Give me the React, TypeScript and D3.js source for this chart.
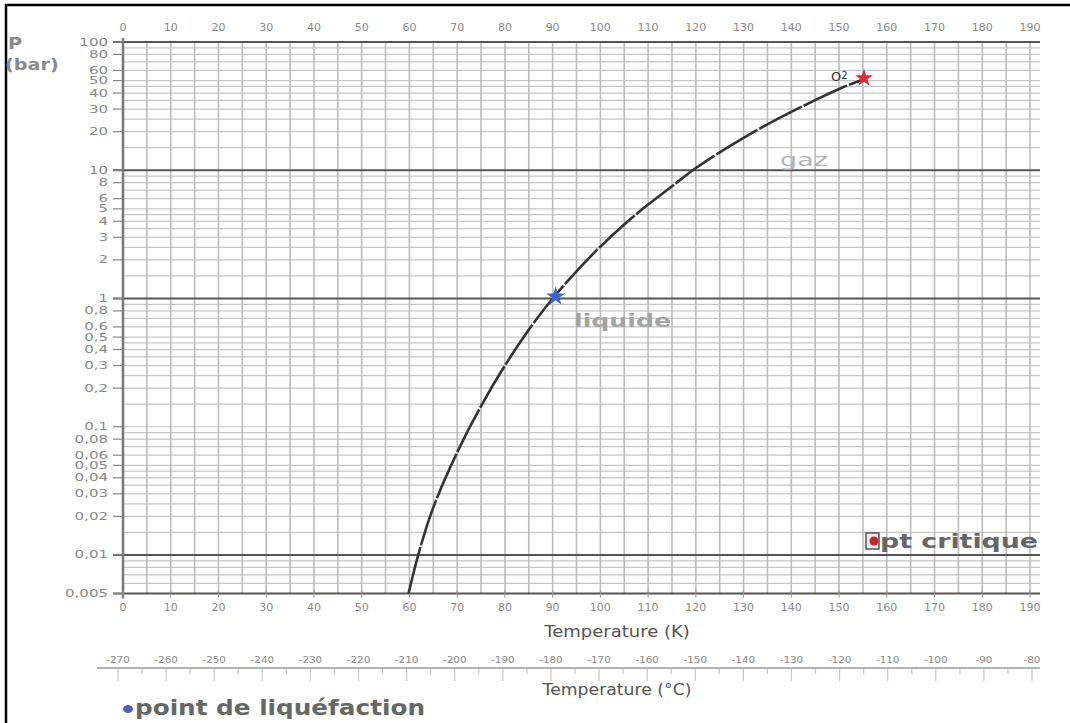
import * as d3 from 'd3';
import { useEffect, useRef } from 'react';

// vapour pressure curve of O2
const CURVE_T = [59.8, 62, 65, 70, 75, 80, 85, 90, 95, 100, 105, 110, 115, 120, 125, 130, 135, 140, 145, 150, 154.6];
const CURVE_P = [0.005, 0.0105, 0.0235, 0.063, 0.145, 0.3, 0.57, 1.0, 1.63, 2.54, 3.78, 5.4, 7.5, 10.4, 13.8, 17.9, 22.8, 28.5, 35.2, 43, 50.4];

const LIQUEFACTION = { t: 90, p: 1 };
const CRITICAL = { t: 154.6, p: 50.4 };

const P_TICKS = [100, 80, 60, 50, 40, 30, 20, 10, 8, 6, 5, 4, 3, 2, 1, 0.8, 0.6, 0.5, 0.4, 0.3, 0.2, 0.1, 0.08, 0.06, 0.05, 0.04, 0.03, 0.02, 0.01, 0.005];
const P_MAJOR = [100, 10, 1, 0.01, 0.005];
const GRID_MANTISSA = [1, 1.5, 2, 2.5, 3, 3.5, 4, 4.5, 5, 6, 7, 8, 9];
const DECADES = [0.001, 0.01, 0.1, 1, 10, 100];

const K_TICKS = d3.range(0, 191, 10);
const C_TICKS = d3.range(-270, -79, 10);

const FONT = '"DejaVu Sans", Verdana, sans-serif';

// the scan is stretched sideways, so widen text to match
function stretch(sel: d3.Selection<SVGTextElement, any, any, any>, factor: number) {
    sel.each(function () {
        const len = this.getComputedTextLength();
        d3.select(this).attr('textLength', len * factor).attr('lengthAdjust', 'spacingAndGlyphs');
    });
}

export default function App() {
    const svgRef = useRef<SVGSVGElement | null>(null);

    useEffect(() => {
        if (!svgRef.current) {
            return;
        }
        const svg = d3.select(svgRef.current);
        svg.selectAll('*').remove();

        const left = 123;
        const right = 1040;
        const top = 42;
        const bottom = 593.6;

        const x = d3.scaleLinear().domain([0, 190]).range([left, 1030]);
        const xMax = x.invert(right);
        const y = d3.scaleLog().domain([0.005, 100]).range([bottom, top]);
        const xc = d3.scaleLinear().domain([-270, -80]).range([118, 1032]);

        svg.append('rect')
            .attr('width', 1070)
            .attr('height', 723)
            .attr('fill', '#fff');

        // outer frame of the scan
        svg.append('rect')
            .attr('x', 6)
            .attr('y', 5)
            .attr('width', 1100)
            .attr('height', 760)
            .attr('fill', 'none')
            .attr('stroke', '#000')
            .attr('stroke-width', 2.5);

        // horizontal grid
        const hLines: number[] = [];
        for (const d of DECADES) {
            for (const m of GRID_MANTISSA) {
                const v = +(m * d).toPrecision(6);
                if (v >= 0.005 && v <= 100 && !hLines.includes(v)) {
                    hLines.push(v);
                }
            }
        }
        svg.append('g')
            .selectAll('line')
            .data(hLines.filter((v) => !P_MAJOR.includes(v)))
            .join('line')
            .attr('x1', left)
            .attr('x2', right)
            .attr('y1', (d) => y(d))
            .attr('y2', (d) => y(d))
            .attr('stroke', '#c6c6c6')
            .attr('stroke-width', 1.2);

        // vertical grid every 5 K
        svg.append('g')
            .selectAll('line')
            .data(d3.range(5, xMax, 5))
            .join('line')
            .attr('x1', (d) => x(d))
            .attr('x2', (d) => x(d))
            .attr('y1', top)
            .attr('y2', bottom)
            .attr('stroke', '#bcbcbc')
            .attr('stroke-width', 1.6);

        svg.append('g')
            .selectAll('line')
            .data(P_MAJOR)
            .join('line')
            .attr('x1', left - 10)
            .attr('x2', right)
            .attr('y1', (d) => y(d))
            .attr('y2', (d) => y(d))
            .attr('stroke', '#555')
            .attr('stroke-width', 2);

        svg.append('line')
            .attr('x1', left)
            .attr('x2', left)
            .attr('y1', top - 4)
            .attr('y2', bottom + 5)
            .attr('stroke', '#777')
            .attr('stroke-width', 2.5);

        // pressure ticks
        const yAxis = svg.append('g').attr('font-family', FONT).attr('font-size', 10).attr('fill', '#8a8a8a');
        yAxis.selectAll('line')
            .data(P_TICKS)
            .join('line')
            .attr('x1', left - 10)
            .attr('x2', left)
            .attr('y1', (d) => y(d))
            .attr('y2', (d) => y(d))
            .attr('stroke', '#888')
            .attr('stroke-width', 1.2);
        const yLabels = yAxis.selectAll<SVGTextElement, number>('text')
            .data(P_TICKS)
            .join('text')
            .attr('x', left - 15)
            .attr('y', (d) => y(d) + 3.5)
            .attr('text-anchor', 'end')
            .text((d) => String(d).replace('.', ','));
        stretch(yLabels, 1.5);

        // temperature K, top and bottom
        const kLabels = svg.append('g').attr('font-family', FONT).attr('font-size', 11).attr('fill', '#8a8a8a').attr('text-anchor', 'middle');
        kLabels.selectAll('text.top')
            .data(K_TICKS)
            .join('text')
            .attr('class', 'top')
            .attr('x', (d) => x(d))
            .attr('y', 31)
            .text((d) => d);
        kLabels.selectAll('text.bottom')
            .data(K_TICKS)
            .join('text')
            .attr('class', 'bottom')
            .attr('x', (d) => x(d))
            .attr('y', 611)
            .text((d) => d);
        svg.append('g')
            .selectAll('line')
            .data(K_TICKS)
            .join('line')
            .attr('x1', (d) => x(d))
            .attr('x2', (d) => x(d))
            .attr('y1', bottom - 3)
            .attr('y2', bottom + 4)
            .attr('stroke', '#999')
            .attr('stroke-width', 1);

        const kTitle = svg.append('text')
            .attr('x', 617)
            .attr('y', 637)
            .attr('text-anchor', 'middle')
            .attr('font-family', FONT)
            .attr('font-size', 15)
            .attr('fill', '#555')
            .text('Temperature (K)');
        stretch(kTitle, 1.2);

        // temperature °C
        svg.append('line')
            .attr('x1', 97)
            .attr('x2', right)
            .attr('y1', 668)
            .attr('y2', 668)
            .attr('stroke', '#9a9a9a')
            .attr('stroke-width', 1.5);
        svg.append('g')
            .selectAll('line')
            .data(d3.range(-270, -79, 5))
            .join('line')
            .attr('x1', (d) => xc(d))
            .attr('x2', (d) => xc(d))
            .attr('y1', 669)
            .attr('y2', (d) => (d % 10 === 0 ? 681 : 674))
            .attr('stroke', '#c8c8c8')
            .attr('stroke-width', 1.2);
        const cLabels = svg.append('g')
            .attr('font-family', FONT)
            .attr('font-size', 9)
            .attr('fill', '#8a8a8a')
            .attr('text-anchor', 'middle')
            .selectAll<SVGTextElement, number>('text')
            .data(C_TICKS)
            .join('text')
            .attr('x', (d) => xc(d))
            .attr('y', 663)
            .text((d) => d);
        stretch(cLabels, 1.15);

        const cTitle = svg.append('text')
            .attr('x', 617)
            .attr('y', 695)
            .attr('text-anchor', 'middle')
            .attr('font-family', FONT)
            .attr('font-size', 15)
            .attr('fill', '#555')
            .text('Temperature (°C)');
        stretch(cTitle, 1.15);

        // P (bar)
        const pLabel = svg.append('g').attr('font-family', FONT).attr('font-weight', 'bold').attr('font-size', 16).attr('fill', '#8a8a8a');
        stretch(pLabel.append('text').attr('x', 8).attr('y', 49).text('P'), 1.2);
        stretch(pLabel.append('text').attr('x', 5).attr('y', 70).text('(bar)'), 1.2);

        // curve
        const pts: [number, number][] = CURVE_T.map((t, i) => [t, CURVE_P[i]]);
        const line = d3
            .line<[number, number]>()
            .x((d) => x(d[0]))
            .y((d) => y(d[1]))
            .curve(d3.curveCatmullRom.alpha(0.5));
        svg.append('path')
            .attr('d', line(pts))
            .attr('fill', 'none')
            .attr('stroke', '#333')
            .attr('stroke-width', 2.6)
            .attr('stroke-dasharray', '48 2');

        // region labels
        stretch(
            svg.append('text')
                .attr('x', 780)
                .attr('y', 166)
                .attr('font-family', FONT)
                .attr('font-size', 18)
                .attr('fill', '#b4b4b4')
                .text('gaz'),
            1.5,
        );
        stretch(
            svg.append('text')
                .attr('x', 574)
                .attr('y', 327)
                .attr('font-family', FONT)
                .attr('font-size', 18)
                .attr('font-weight', 'bold')
                .attr('fill', '#a4a4a4')
                .text('liquide'),
            1.4,
        );

        // markers
        svg.append('path')
            .attr('d', d3.symbol(d3.symbolStar, 110)())
            .attr('transform', `translate(${x(LIQUEFACTION.t) + 3},${y(LIQUEFACTION.p) - 2})`)
            .attr('fill', '#4062c8');
        svg.append('path')
            .attr('d', d3.symbol(d3.symbolStar, 100)())
            .attr('transform', `translate(${x(CRITICAL.t) + 3},${y(CRITICAL.p) - 2})`)
            .attr('fill', '#d8303a');
        const o2 = svg.append('text')
            .attr('x', x(CRITICAL.t) - 30)
            .attr('y', y(CRITICAL.p) + 1)
            .attr('font-family', FONT)
            .attr('font-size', 13)
            .attr('fill', '#333');
        o2.append('tspan').text('O');
        o2.append('tspan').attr('font-size', 10).attr('dy', -2).text('2');

        // legend: pt critique
        svg.append('rect')
            .attr('x', 866)
            .attr('y', 533)
            .attr('width', 13)
            .attr('height', 16)
            .attr('fill', '#fbeaea')
            .attr('stroke', '#555')
            .attr('stroke-width', 1.5);
        svg.append('circle')
            .attr('cx', 874)
            .attr('cy', 541)
            .attr('r', 4.5)
            .attr('fill', '#c0282d');
        svg.append('text')
            .attr('x', 880)
            .attr('y', 548)
            .attr('font-family', FONT)
            .attr('font-size', 20)
            .attr('font-weight', 'bold')
            .attr('fill', '#666')
            .attr('textLength', 158)
            .attr('lengthAdjust', 'spacingAndGlyphs')
            .text('pt critique');

        // legend: point de liquéfaction
        svg.append('ellipse')
            .attr('cx', 128)
            .attr('cy', 709)
            .attr('rx', 5)
            .attr('ry', 4)
            .attr('fill', '#4a66b8');
        svg.append('text')
            .attr('x', 135)
            .attr('y', 715)
            .attr('font-family', FONT)
            .attr('font-size', 21)
            .attr('font-weight', 'bold')
            .attr('fill', '#666')
            .attr('textLength', 290)
            .attr('lengthAdjust', 'spacingAndGlyphs')
            .text('point de liquéfaction');
    }, []);

    return (
        <svg
            ref={svgRef}
            width={1070}
            height={723}
            style={{ position: 'absolute', left: 0, top: 0, display: 'block' }}
        />
    );
}
